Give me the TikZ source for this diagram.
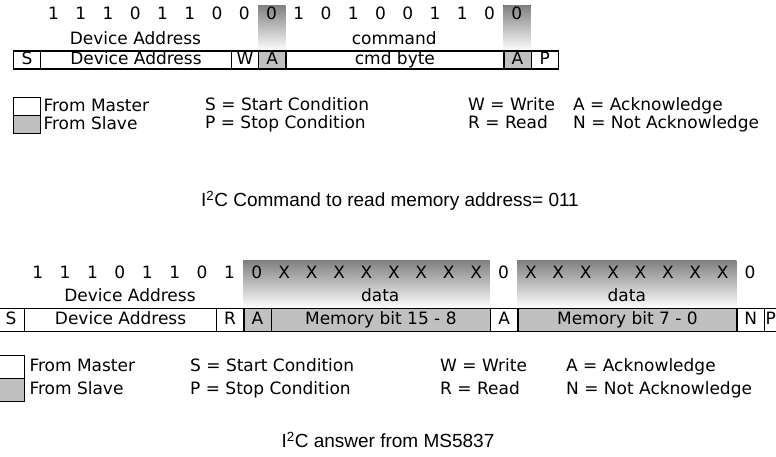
\documentclass[tikz,border=0pt]{standalone}
\usepackage{fontspec}
\setmainfont{DejaVu Sans}
\newfontfamily\capfont{Liberation Sans}
\definecolor{shade}{RGB}{192,192,192}
\begin{document}
\begin{tikzpicture}[x=1pt, y=-1pt,
        txt/.style={font=\fontsize{17}{20}\selectfont, inner sep=0pt, text height=12.5pt, text depth=3.5pt},
        cell/.style={txt, draw, line width=1.3pt, minimum height=18pt, anchor=west},
        legbox/.style={draw, line width=1.3pt, inner sep=0pt, anchor=north west},
        leg/.style={txt, anchor=west},
        caption/.style={font=\capfont\fontsize{19}{22}\selectfont, inner sep=0pt}
    ]
        \useasboundingbox (0,0) rectangle (776,456);

        % write: memory address command
        \fill[shade] (258,5) rectangle (285.25,51);
        \fill[shade] (503.25,5) rectangle (530.5,51);
        \foreach \b [count=\i from 0] in {1,1,1,0,1,1,0,0,0,1,0,1,0,0,1,1,0,0}
            \node[txt] (tb\i) at ({40+27.25*(\i+0.5)},15) {\b};
        \node[txt] (tdevlbl) at (135.4,40) {Device Address};
        \node[txt] (tcmdlbl) at (394.25,40) {command};

        \node[cell, minimum width=27.25pt] (ts) at (12.75,60) {S};
        \node[cell, minimum width=190.75pt] (tdev) at (40,60) {Device Address};
        \node[cell, minimum width=27.25pt] (tw) at (230.75,60) {W};
        \node[cell, minimum width=27.25pt, fill=shade] (ta1) at (258,60) {A};
        \node[cell, minimum width=218pt] (tcmd) at (285.25,60) {cmd byte};
        \node[cell, minimum width=27.25pt, fill=shade] (ta2) at (503.25,60) {A};
        \node[cell, minimum width=27.25pt] (tp) at (530.5,60) {P};

        \node[legbox, minimum width=27.25pt, minimum height=18pt] (tmaster) at (12.75,97) {};
        \node[legbox, minimum width=27.25pt, minimum height=18pt, fill=shade] (tslave) at (12.75,115) {};
        \node[leg] (tmtxt) at ([xshift=2pt]tmaster.east) {From Master};
        \node[leg] (tstxt) at ([xshift=2pt]tslave.east) {From Slave};
        \node[leg] (tstart) at (205,106) {S = Start Condition};
        \node[leg] (tstop) at (205,124) {P = Stop Condition};
        \node[leg] (twrite) at (468,106) {W = Write};
        \node[leg] (tread) at (468,124) {R = Read};
        \node[leg] (tack) at (573,106) {A = Acknowledge};
        \node[leg] (tnack) at (573,124) {N = Not Acknowledge};

        \node[caption] (tcap) at (390,201) {I\textsuperscript{2}C Command to read memory address= 011};

        % read: answer from sensor
        \fill[shade] (243.2,260) rectangle (489.8,308.5);
        \fill[shade] (517.2,260) rectangle (736.4,308.5);
        \foreach \b [count=\i from 0] in {1,1,1,0,1,1,0,1,0,X,X,X,X,X,X,X,X,0,X,X,X,X,X,X,X,X,0}
            \node[txt] (bb\i) at ({24+27.4*(\i+0.5)},274) {\b};
        \node[txt] (bdevlbl) at (130,297) {Device Address};
        \node[txt] (bdata1) at (380.2,297) {data};
        \node[txt] (bdata2) at (626.8,297) {data};

        \node[cell, minimum height=23pt, minimum width=27.4pt] (bs) at (-3.4,320) {S};
        \node[cell, minimum height=23pt, minimum width=191.8pt] (bdev) at (24,320) {Device Address};
        \node[cell, minimum height=23pt, minimum width=27.4pt] (br) at (215.8,320) {R};
        \node[cell, minimum height=23pt, minimum width=27.4pt, fill=shade] (ba1) at (243.2,320) {A};
        \node[cell, minimum height=23pt, minimum width=219.2pt, fill=shade] (bmsb) at (270.6,320) {Memory bit 15 - 8};
        \node[cell, minimum height=23pt, minimum width=27.4pt] (ba2) at (489.8,320) {A};
        \node[cell, minimum height=23pt, minimum width=219.2pt, fill=shade] (blsb) at (517.2,320) {Memory bit 7 - 0};
        \node[cell, minimum height=23pt, minimum width=27.4pt] (bn) at (736.4,320) {N};
        \node[cell, minimum height=23pt, minimum width=27.4pt, text width=25pt, align=left] (bp) at (763.8,320) {P};

        \node[legbox, minimum width=27.4pt, minimum height=23pt] (bmaster) at (-3.4,355) {};
        \node[legbox, minimum width=27.4pt, minimum height=23pt, fill=shade] (bslave) at (-3.4,378) {};
        \node[leg] (bmtxt) at ([xshift=4pt]bmaster.east) {From Master};
        \node[leg] (bstxt) at ([xshift=4pt]bslave.east) {From Slave};
        \node[leg] (bstart) at (190,366.5) {S = Start Condition};
        \node[leg] (bstop) at (190,389.5) {P = Stop Condition};
        \node[leg] (bwrite) at (440,366.5) {W = Write};
        \node[leg] (bread) at (440,389.5) {R = Read};
        \node[leg] (back) at (566,366.5) {A = Acknowledge};
        \node[leg] (bnack) at (566,389.5) {N = Not Acknowledge};

        \node[caption] (bcap) at (388,440) {I\textsuperscript{2}C answer from MS5837};
    \end{tikzpicture}
\end{document}
